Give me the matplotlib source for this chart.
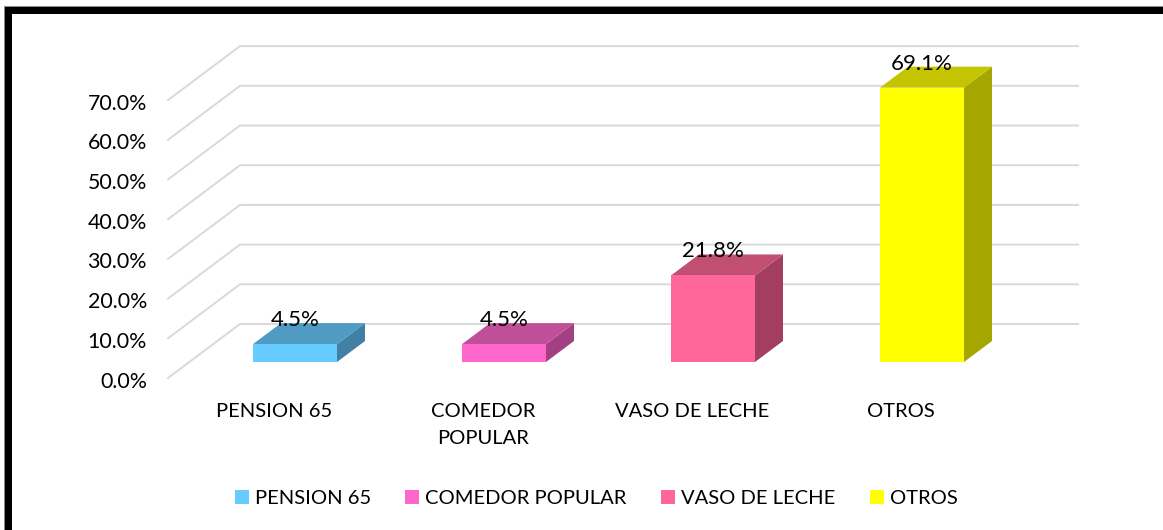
import matplotlib
matplotlib.use('Agg')
import matplotlib.pyplot as plt
from matplotlib.patches import Polygon, Rectangle

categories = ['PENSION 65', 'COMEDOR POPULAR', 'VASO DE LECHE', 'OTROS']
tick_labels = ['PENSION 65', 'COMEDOR\nPOPULAR', 'VASO DE LECHE', 'OTROS']
values = [4.5, 4.5, 21.8, 69.1]
y_ticks = [0, 10, 20, 30, 40, 50, 60, 70]
front_colors = ['#66CCFF', '#FF66CC', '#FF6699', '#FFFF00']
top_colors = ['#4F9BC3', '#C04F99', '#C14F73', '#C4C400']
side_colors = ['#417FA3', '#A33F83', '#A33E60', '#A6A600']

W, H = 1163, 530
PX_X = 209.0   # px per category
PX_Y = 3.97    # px per percent
X0, Y0 = 295.0, 362.0   # px position of first bar centre / bar base

plt.rcParams['font.family'] = ['Lato', 'DejaVu Sans']
FS = 14.5
FS_NUM = 15.4
FS_VAL = 16


def main():
    fig = plt.figure(figsize=(W / 100, H / 100), dpi=100, facecolor='white')
    ax = fig.add_axes([0, 0, 1, 1])
    ax.set_xlim(-X0 / PX_X, (W - X0) / PX_X)
    ax.set_ylim(-(H - Y0) / PX_Y, Y0 / PX_Y)
    ax.axis('off')

    # offsets of the fake 3d, in data units
    bar_w = 84 / PX_X
    dx, dy = 28 / PX_X, 21 / PX_Y
    # floor: front edge is 16 px under the bar base, back wall 38 px over it
    fx, fy = (168 - X0) / PX_X, -16 / PX_Y
    bx, by = (240 - X0) / PX_X, 38 / PX_Y
    rx = (1078 - X0) / PX_X

    for t in y_ticks:
        ax.plot([fx, bx, rx], [fy + t, by + t, by + t], color='#D9D9D9', lw=1.4,
                zorder=1, solid_joinstyle='miter')
        ax.text(fx - 21 / PX_X, fy + t - 3.5 / PX_Y, '%.1f%%' % t, ha='right', va='center',
                fontsize=FS_NUM, color='black')

    for i, v in enumerate(values):
        l, r = i - bar_w / 2, i + bar_w / 2
        ax.add_patch(Polygon([(r, 0), (r + dx, dy), (r + dx, v + dy), (r, v)],
                             fc=side_colors[i], ec='none', zorder=3))
        ax.add_patch(Polygon([(l, v), (r, v), (r + dx, v + dy), (l + dx, v + dy)],
                             fc=top_colors[i], ec='none', zorder=3))
        ax.add_patch(Rectangle((l, 0), bar_w, v, fc=front_colors[i], ec='none', zorder=4))
        ax.text(i, v + 24 / PX_Y, '%.1f%%' % v, ha='center', va='center',
                fontsize=FS_VAL, color='black', zorder=5)
        ax.text(i - 21 / PX_X, -41 / PX_Y, tick_labels[i], ha='center', va='top',
                fontsize=FS, color='black', linespacing=1.75)

    handles = [Rectangle((0, 0), 1, 1, fc=c, ec='none') for c in front_colors]
    ax.legend(handles, categories, loc='center', bbox_to_anchor=(596 / W, 1 - 498.5 / H),
              bbox_transform=fig.transFigure, ncols=4, frameon=False, fontsize=FS,
              handlelength=0.7, handleheight=0.65, handletextpad=0.3, columnspacing=1.7,
              borderpad=0, labelcolor='black')

    # black frame, open at the bottom and right side of the crop
    ax.add_patch(Rectangle((4 / W, 0), (W - 4) / W, 1 - 6 / H, transform=fig.transFigure,
                           fc='#8C8C8C', ec='none', zorder=0))
    ax.add_patch(Rectangle((5 / W, 0), (W - 5) / W, 1 - 7 / H, transform=fig.transFigure,
                           fc='black', ec='none', zorder=0.1))
    ax.add_patch(Rectangle((12 / W, 0), (W - 12) / W, 1 - 14 / H, transform=fig.transFigure,
                           fc='white', ec='none', zorder=0.2))

    fig.savefig('out.png', dpi=100, facecolor='white')


if __name__ == "__main__":
    main()
